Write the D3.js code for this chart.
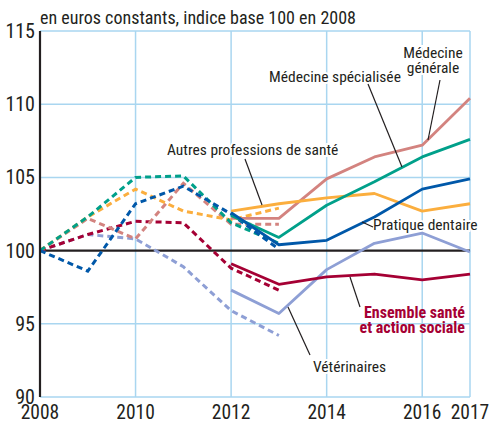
<!DOCTYPE html>
<html>
<head>
<meta charset="utf-8">
<script src="https://cdn.jsdelivr.net/npm/d3@7"></script>
<style>
  body { margin: 0; background: #fff; }
  svg { display: block; }
  text { font-family: "Liberation Sans Narrow", "Arial Narrow", "Roboto Condensed", sans-serif; fill: #231f20; }
</style>
</head>
<body>
<svg id="chart" width="494" height="424"></svg>
<script>
const yearsOld = [2008, 2009, 2010, 2011, 2012, 2013];
const yearsNew = [2012, 2013, 2014, 2015, 2016, 2017];
const xTicks = [2008, 2010, 2012, 2014, 2016, 2017];
const yTicks = [90, 95, 100, 105, 110, 115];

// old series (dashed), 2008-2013
const medGenOld = [100, 102.2, 100.8, 104.6, 101.8, 101.8];
const medSpeOld = [100, 102.3, 105.0, 105.1, 101.9, 100.5];
const autresOld = [100, 102.3, 104.2, 102.7, 102.1, 102.9];
const dentaireOld = [100, 98.6, 103.2, 104.4, 102.5, 100.1];
const veteOld = [100, 101.1, 100.8, 98.9, 95.9, 94.2];
const ensembleOld = [100, 101.1, 102.0, 101.9, 98.8, 97.3];

// new series (solid), 2012-2017
const medGenNew = [102.2, 102.2, 104.9, 106.4, 107.2, 110.4];
const medSpeNew = [102.4, 100.9, 103.1, 104.7, 106.4, 107.6];
const autresNew = [102.7, 103.2, 103.6, 103.9, 102.7, 103.2];
const dentaireNew = [102.6, 100.4, 100.7, 102.3, 104.2, 104.9];
const veteNew = [97.3, 95.7, 98.7, 100.5, 101.2, 99.9];
const ensembleNew = [99.1, 97.7, 98.2, 98.4, 98.0, 98.4];

const series = [
  { name: "Vétérinaires", color: "#8e9fd5", old: veteOld, cur: veteNew },
  { name: "Ensemble", color: "#a50034", old: ensembleOld, cur: ensembleNew },
  { name: "Médecine générale", color: "#d3837f", old: medGenOld, cur: medGenNew },
  { name: "Autres professions", color: "#fbae3e", old: autresOld, cur: autresNew },
  { name: "Médecine spécialisée", color: "#00a08a", old: medSpeOld, cur: medSpeNew },
  { name: "Pratique dentaire", color: "#0058a9", old: dentaireOld, cur: dentaireNew }
];

const svg = d3.select("#chart");
const x = d3.scaleLinear().domain([2008, 2017]).range([40, 470]);
const y = d3.scaleLinear().domain([90, 115]).range([397, 31]);
const grid = "#a9d6f0";

// gridlines
const g = svg.append("g");
g.selectAll(".hgrid").data(yTicks.filter(v => v !== 100))
  .join("line")
  .attr("x1", x(2008)).attr("x2", x(2017))
  .attr("y1", d => y(d)).attr("y2", d => y(d))
  .attr("stroke", grid).attr("stroke-width", 1.5);
g.selectAll(".vgrid").data(xTicks.slice(1))
  .join("line")
  .attr("x1", d => x(d)).attr("x2", d => x(d))
  .attr("y1", y(115)).attr("y2", y(90))
  .attr("stroke", grid).attr("stroke-width", 1.5);

// y axis labels
svg.append("g").selectAll("text").data(yTicks)
  .join("text")
  .attr("x", 35).attr("y", d => y(d) + 7)
  .attr("text-anchor", "end")
  .attr("font-size", 20)
  .text(d => d);

// x axis labels
svg.append("g").selectAll("text").data(xTicks)
  .join("text")
  .attr("x", d => x(d)).attr("y", 419)
  .attr("text-anchor", "middle")
  .attr("font-size", 19.5)
  .text(d => d);

svg.append("text")
  .attr("x", 40).attr("y", 24)
  .attr("font-size", 18)
  .text("en euros constants, indice base 100 en 2008");

// labels with leaders (drawn before lines so halos don't hide marks)
const labels = [
  { lines: ["Médecine", "générale"], x: 433, y: 58, anchor: "middle", lead: [[440, 80], [428, 140]] },
  { lines: ["Médecine spécialisée"], x: 335, y: 82, anchor: "middle", lead: [[368, 84], [402, 167]] },
  { lines: ["Autres professions de santé"], x: 167, y: 155, anchor: "start", lead: [[245, 159], [262, 205]] },
  { lines: ["Pratique dentaire"], x: 373, y: 230, anchor: "start", lead: [[362, 222], [373, 227]] },
  { lines: ["Vétérinaires"], x: 313, y: 372, anchor: "start", lead: [[288, 307], [310, 355]] }
];
const lab = svg.append("g");
labels.forEach(l => {
  const t = lab.append("text")
    .attr("x", l.x).attr("y", l.y)
    .attr("text-anchor", l.anchor)
    .attr("font-size", 15.5)
    .attr("stroke", "#fff").attr("stroke-width", 4)
    .attr("paint-order", "stroke");
  l.lines.forEach((s, i) => t.append("tspan").attr("x", l.x).attr("dy", i ? 14.5 : 0).text(s));
});

// 100 baseline
svg.append("line")
  .attr("x1", x(2008)).attr("x2", x(2017))
  .attr("y1", y(100)).attr("y2", y(100))
  .attr("stroke", "#231f20").attr("stroke-width", 2.2);

const line = years => d3.line().x((d, i) => x(years[i])).y(d => y(d));

const lines = svg.append("g").attr("fill", "none");
series.forEach(s => {
  lines.append("path")
    .attr("d", line(yearsOld)(s.old))
    .attr("stroke", s.color).attr("stroke-width", 3)
    .attr("stroke-dasharray", "6,4");
});
series.forEach(s => {
  lines.append("path")
    .attr("d", line(yearsNew)(s.cur))
    .attr("stroke", s.color).attr("stroke-width", 2.8)
    .attr("stroke-linejoin", "round");
});

// leader lines
labels.forEach(l => {
  svg.append("line")
    .attr("x1", l.lead[0][0]).attr("y1", l.lead[0][1])
    .attr("x2", l.lead[1][0]).attr("y2", l.lead[1][1])
    .attr("stroke", "#231f20").attr("stroke-width", 1.2);
});
svg.append("line")
  .attr("x1", 350).attr("y1", 277).attr("x2", 360).attr("y2", 307)
  .attr("stroke", "#231f20").attr("stroke-width", 1.2);

const ens = svg.append("text")
  .attr("x", 465).attr("y", 318)
  .attr("text-anchor", "end")
  .attr("font-size", 16).attr("font-weight", "bold")
  .style("fill", "#a50034");
ens.append("tspan").attr("x", 465).text("Ensemble santé");
ens.append("tspan").attr("x", 465).attr("dy", 14.5).text("et action sociale");

// left axis
svg.append("line")
  .attr("x1", 40).attr("x2", 40)
  .attr("y1", y(115)).attr("y2", y(90))
  .attr("stroke", "#231f20").attr("stroke-width", 2.2);
</script>
</body>
</html>
